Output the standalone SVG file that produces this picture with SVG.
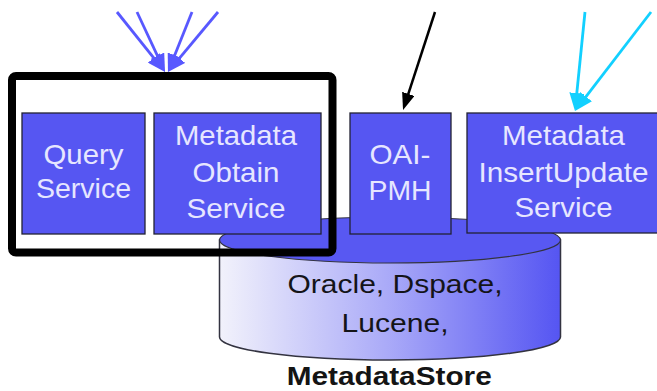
<svg xmlns="http://www.w3.org/2000/svg" width="657" height="391" viewBox="0 0 657 391">
<defs>
<style>
.box{fill:#5656F2;stroke:#222233;stroke-width:1.3}
.bt{font-family:"Liberation Sans",Arial,sans-serif;font-size:28px;fill:#E6E6FF;text-anchor:middle}
.ct{font-family:"Liberation Sans",Arial,sans-serif;font-size:26px;fill:#141418;text-anchor:middle}
.lbl{font-family:"Liberation Sans",Arial,sans-serif;font-size:26px;font-weight:bold;fill:#141414;text-anchor:middle}
.blue{stroke:#5858FF;stroke-width:2.8;fill:none}
.cyan{stroke:#12D0FF;stroke-width:2.8;fill:none}
.blk{stroke:#000;stroke-width:2.5;fill:none}
</style>
<linearGradient id="body" x1="0" y1="0" x2="1" y2="0">
<stop offset="0" stop-color="#F2F2FB"/>
<stop offset="0.5" stop-color="#A9A9F8"/>
<stop offset="1" stop-color="#5555F2"/>
</linearGradient>
<marker id="mBlue" markerUnits="userSpaceOnUse" markerWidth="18" markerHeight="15" refX="12" refY="7.5" orient="auto"><path d="M0,0 L18,7.5 L0,15 z" fill="#5858FF"/></marker>
<marker id="mCyan" markerUnits="userSpaceOnUse" markerWidth="18" markerHeight="15" refX="12" refY="7.5" orient="auto"><path d="M0,0 L18,7.5 L0,15 z" fill="#12D0FF"/></marker>
<marker id="mBlk" markerUnits="userSpaceOnUse" markerWidth="17" markerHeight="13" refX="11" refY="6.5" orient="auto"><path d="M0,0 L17,6.5 L0,13 z" fill="#000"/></marker>
</defs>
<rect width="657" height="391" fill="#FFFFFF"/>

<g id="metadata-store">
<path d="M219.5,240 L219.5,337 A170.5,23 0 0 0 560.5,337 L560.5,240 Z" fill="url(#body)" stroke="#333340" stroke-width="1.5"/>
<ellipse cx="390" cy="240" rx="170.5" ry="23" fill="#5858F2" stroke="#333340" stroke-width="1.2"/>
<text class="ct" x="395" y="293.3" textLength="215" lengthAdjust="spacingAndGlyphs">Oracle, Dspace,</text>
<text class="ct" x="395" y="331.7" textLength="107" lengthAdjust="spacingAndGlyphs">Lucene,</text>
<text class="lbl" x="389.2" y="385" textLength="205" lengthAdjust="spacingAndGlyphs">MetadataStore</text>
</g>

<g id="query-service">
<rect class="box" x="22" y="113" width="123" height="121"/>
<text class="bt" x="83.5" y="163.5" textLength="80" lengthAdjust="spacingAndGlyphs">Query</text>
<text class="bt" x="83.5" y="198" textLength="95" lengthAdjust="spacingAndGlyphs">Service</text>
</g>

<g id="metadata-obtain-service">
<rect class="box" x="154" y="113" width="167" height="121"/>
<text class="bt" x="236" y="145" textLength="122" lengthAdjust="spacingAndGlyphs">Metadata</text>
<text class="bt" x="236" y="181.5" textLength="87" lengthAdjust="spacingAndGlyphs">Obtain</text>
<text class="bt" x="236" y="217.5" textLength="99" lengthAdjust="spacingAndGlyphs">Service</text>
</g>

<g id="oai-pmh">
<rect class="box" x="350" y="113" width="101" height="121"/>
<text class="bt" x="400" y="164" textLength="61" lengthAdjust="spacingAndGlyphs">OAI-</text>
<text class="bt" x="400" y="200" textLength="63" lengthAdjust="spacingAndGlyphs">PMH</text>
</g>

<g id="metadata-insertupdate-service">
<rect class="box" x="467" y="113" width="200" height="120"/>
<text class="bt" x="563.5" y="145" textLength="123" lengthAdjust="spacingAndGlyphs">Metadata</text>
<text class="bt" x="563.5" y="181.7" textLength="170" lengthAdjust="spacingAndGlyphs">InsertUpdate</text>
<text class="bt" x="563.5" y="216.7" textLength="98" lengthAdjust="spacingAndGlyphs">Service</text>
</g>

<g id="query-group-frame">
<rect x="12" y="76" width="320.5" height="176.5" rx="4" fill="none" stroke="#000" stroke-width="8"/>
</g>

<g id="connectors">
<line class="blue" x1="117" y1="12" x2="161.3" y2="67.3" marker-end="url(#mBlue)"/>
<line class="blue" x1="137" y1="12" x2="162.5" y2="66.6" marker-end="url(#mBlue)"/>
<line class="blue" x1="192" y1="12" x2="170.2" y2="66.4" marker-end="url(#mBlue)"/>
<line class="blue" x1="218" y1="12" x2="171.8" y2="67.4" marker-end="url(#mBlue)"/>
<line class="blk" x1="435" y1="12" x2="404.9" y2="104.3" marker-end="url(#mBlk)"/>
<line class="cyan" x1="585" y1="12" x2="575.6" y2="105" marker-end="url(#mCyan)"/>
<line class="cyan" x1="651" y1="12" x2="578.7" y2="106.2" marker-end="url(#mCyan)"/>
</g>
</svg>
